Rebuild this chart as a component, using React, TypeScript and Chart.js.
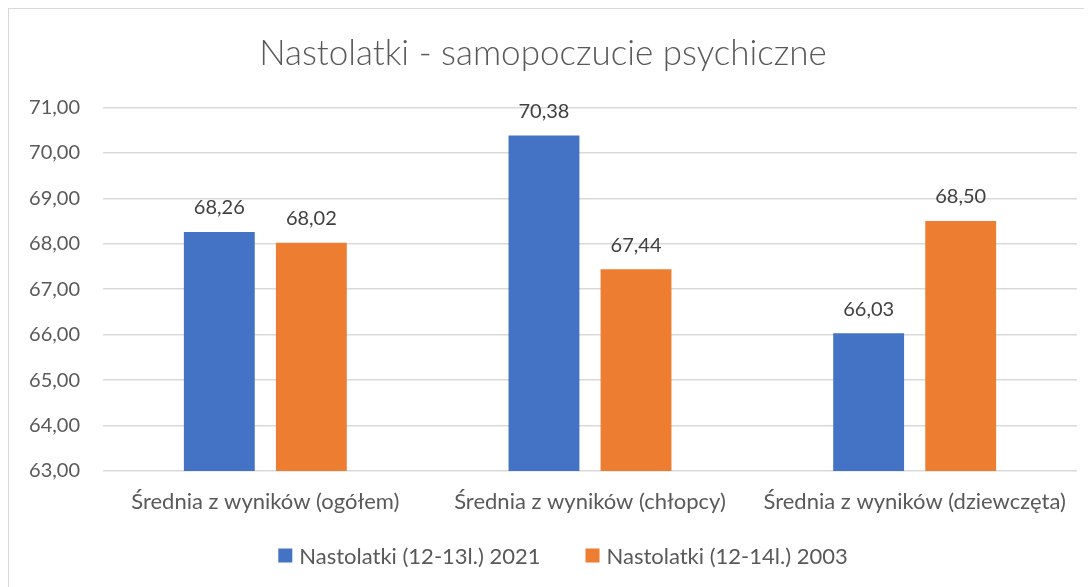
import React, { useEffect, useRef } from "react";
import { Chart, registerables } from "chart.js";

Chart.register(...registerables);

const categories = [
  "Średnia z wyników (ogółem)",
  "Średnia z wyników (chłopcy)",
  "Średnia z wyników (dziewczęta)",
];
const series2021 = [68.26, 70.38, 66.03];
const series2003 = [68.02, 67.44, 68.5];
const seriesNames = ["Nastolatki (12-13l.) 2021", "Nastolatki (12-14l.) 2003"];
const seriesColors = ["#4472C4", "#ED7D31"];
const yMin = 63;
const yMax = 71;

const FONT = "Lato, 'Open Sans', sans-serif";
const fmt = (v: number) => v.toFixed(2).replace(".", ",");

const valueLabels = {
  id: "valueLabels",
  afterDatasetsDraw(chart: any) {
    const ctx = chart.ctx;
    ctx.save();
    ctx.font = `20px ${FONT}`;
    ctx.fillStyle = "#404040";
    ctx.textAlign = "center";
    ctx.textBaseline = "middle";
    chart.data.datasets.forEach((ds: any, i: number) => {
      const meta = chart.getDatasetMeta(i);
      meta.data.forEach((bar: any, j: number) => {
        ctx.fillText(fmt(ds.data[j]), bar.x, bar.y - 24);
      });
    });
    ctx.restore();
  },
};

// Bottom legend drawn from the datasets (Excel-like spacing)
const bottomLegend = {
  id: "bottomLegend",
  afterDraw(chart: any) {
    const ctx = chart.ctx;
    const box = 14;
    const gap = 7;
    const spacing = 45;
    const centerX = 554;
    const centerY = 546.5;
    ctx.save();
    ctx.font = `22px ${FONT}`;
    ctx.textBaseline = "middle";
    ctx.textAlign = "left";
    const items = chart.data.datasets.map((ds: any) => ({
      text: ds.label,
      color: ds.backgroundColor,
      w: box + gap + ctx.measureText(ds.label).width,
    }));
    const total = items.reduce((a: number, it: any) => a + it.w, 0) + spacing * (items.length - 1);
    let x = centerX - total / 2;
    items.forEach((it: any) => {
      ctx.fillStyle = it.color;
      ctx.fillRect(x, centerY - box / 2, box, box);
      ctx.fillStyle = "#595959";
      ctx.fillText(it.text, x + box + gap, centerY + 1);
      x += it.w + spacing;
    });
    ctx.restore();
  },
};

export default function App() {
  const ref = useRef<HTMLCanvasElement | null>(null);
  useEffect(() => {
    document.documentElement.style.overflow = "hidden";
    document.body.style.overflow = "hidden";
    const chart = new Chart(ref.current as HTMLCanvasElement, {
      type: "bar",
      data: {
        labels: categories,
        datasets: [
          { label: seriesNames[0], data: series2021, backgroundColor: seriesColors[0] },
          { label: seriesNames[1], data: series2003, backgroundColor: seriesColors[1] },
        ],
      },
      options: {
        responsive: false,
        animation: false,
        layout: { padding: { left: 0, right: 15, top: 0, bottom: 0 } },
        datasets: { bar: { categoryPercentage: 0.567, barPercentage: 0.77 } },
        plugins: {
          title: {
            display: true,
            text: "Nastolatki - samopoczucie psychiczne",
            color: "#595959",
            font: { family: FONT, size: 35, weight: "300" as any },
            padding: { top: 24, bottom: 32.4 },
          },
          legend: { display: false },
          tooltip: { enabled: false },
        },
        scales: {
          x: {
            afterFit: (s: any) => { s.height = 118; },
            grid: { display: false, drawTicks: false },
            border: { display: false },
            ticks: { color: "#595959", font: { family: FONT, size: 22 }, padding: 18, maxRotation: 0 },
          },
          y: {
            min: yMin,
            max: yMax,
            afterFit: (s: any) => { s.width = 94; },
            grid: { color: "#d9d9d9", lineWidth: 1.5, drawTicks: false },
            border: { display: false },
            ticks: {
              stepSize: 1,
              color: "#595959",
              font: { family: FONT, size: 20 },
              padding: 23,
              callback: (v: any) => fmt(Number(v)),
            },
          },
        },
      },
      plugins: [valueLabels, bottomLegend],
    });
    return () => chart.destroy();
  }, []);
  return (
    <div style={{ width: 1083, height: 580, border: "1px solid #d9d9d9" }}>
      <canvas ref={ref} width={1083} height={580} style={{ display: "block" }} />
    </div>
  );
}
